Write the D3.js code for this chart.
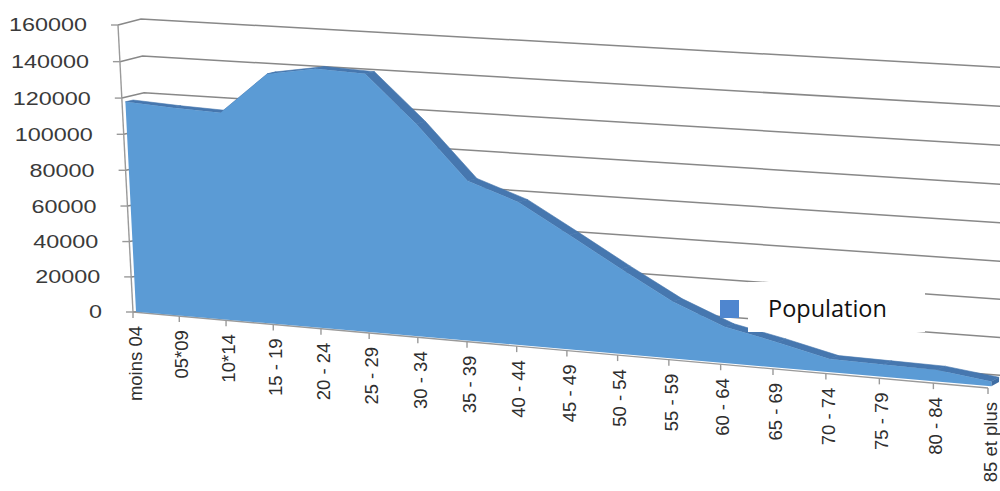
<!DOCTYPE html>
<html>
<head>
<meta charset="utf-8">
<script src="https://cdn.jsdelivr.net/npm/d3@7"></script>
<style>
  body { margin: 0; background: #fff; }
  svg { display: block; }
</style>
</head>
<body>
<div id="chart"></div>
<script>
// data
const categories = ['moins 04', '05*09', '10*14', '15 - 19', '20 - 24', '25 - 29', '30 - 34', '35 - 39', '40 - 44',
  '45 - 49', '50 - 54', '55 - 59', '60 - 64', '65 - 69', '70 - 74', '75 - 79', '80 - 84', '85 et plus'];
const population = [117500, 116000, 115000, 137700, 142100, 141000, 116000, 87300, 77800,
  62100, 46100, 30800, 19500, 13600, 7000, 6500, 6000, 2500];
const valueTicks = [0, 20000, 40000, 60000, 80000, 100000, 120000, 140000, 160000];
const seriesName = 'Population';

const W = 1000, H = 491;
const svg = d3.select('#chart').append('svg').attr('width', W).attr('height', H);

// perspective box: screen corners of the front wall (z=0) and back wall (z=1)
// order: [cat0,val0], [catN,val0], [catN,valMax], [cat0,valMax]
const frontQuad = [[133, 312], [988, 388], [995, 76], [118, 25]];
const backQuad  = [[153, 310], [1010, 376], [1015, 68], [141, 19]];

function quadMap(q) {
  const [[x0, y0], [x1, y1], [x2, y2], [x3, y3]] = q;
  const dx1 = x1 - x2, dx2 = x3 - x2, dx3 = x0 - x1 + x2 - x3;
  const dy1 = y1 - y2, dy2 = y3 - y2, dy3 = y0 - y1 + y2 - y3;
  const den = dx1 * dy2 - dx2 * dy1;
  const g = (dx3 * dy2 - dx2 * dy3) / den, h = (dx1 * dy3 - dx3 * dy1) / den;
  const a = x1 - x0 + g * x1, b = x3 - x0 + h * x3, c = x0;
  const d = y1 - y0 + g * y1, e = y3 - y0 + h * y3, f = y0;
  return (u, v) => { const w = g * u + h * v + 1; return [(a * u + b * v + c) / w, (d * u + e * v + f) / w]; };
}
const front = quadMap(frontQuad), back = quadMap(backQuad);

const x = d3.scaleLinear().domain([0, categories.length - 1]).range([0, 1]);
const y = d3.scaleLinear().domain([0, d3.max(valueTicks)]).range([0, 1]);

function P(i, v, z) {
  const a = front(x(i), y(v)), b = back(x(i), y(v));
  return [a[0] + (b[0] - a[0]) * z, a[1] + (b[1] - a[1]) * z];
}

const line = d3.line();
const last = categories.length - 1;
const zf = 0.15, zb = 0.5;   // depth of the area slab

// floor
svg.append('path')
  .attr('d', line([P(0, 0, 0), P(last, 0, 0), P(last, 0, 1), P(0, 0, 1)]) + 'Z')
  .attr('fill', '#fff');

// gridlines on side + back walls
const gGrid = svg.append('g').attr('fill', 'none').attr('stroke', '#888').attr('stroke-width', 1.5);
valueTicks.forEach(v => {
  gGrid.append('path').attr('d', line([P(0, v, 0), P(0, v, 1), P(last, v, 1)]));
});

// floor front edge + category ticks
const gAxis = svg.append('g').attr('stroke', '#9a9a9a').attr('stroke-width', 1.4).attr('fill', 'none');
gAxis.append('path').attr('d', line([P(0, 0, 0), P(last, 0, 0)]));
categories.forEach((c, i) => {
  const p = P(i, 0, 0);
  gAxis.append('path').attr('d', line([p, [p[0], p[1] + 6]]));
});
// vertical axis + ticks
gAxis.append('path').attr('d', line([P(0, 0, 0), P(0, d3.max(valueTicks), 0)]));
valueTicks.forEach(v => {
  const p = P(0, v, 0);
  gAxis.append('path').attr('d', line([p, [p[0] - 7, p[1]]]));
});

// area slab: top surface, end cap, front face
const gArea = svg.append('g');
population.forEach((v, i) => {
  if (i === last) return;
  const w = population[i + 1];
  gArea.append('path')
    .attr('d', line([P(i, v, zf), P(i + 1, w, zf), P(i + 1, w, zb), P(i, v, zb)]) + 'Z')
    .attr('fill', '#4677af').attr('stroke', '#4677af').attr('stroke-width', 0.6);
});
gArea.append('path')
  .attr('d', line([P(last, 0, zf), P(last, population[last], zf), P(last, population[last], zb), P(last, 0, zb)]) + 'Z')
  .attr('fill', '#3f6da3');
const frontPts = [P(0, 0, zf), ...population.map((v, i) => P(i, v, zf)), P(last, 0, zf)];
gArea.append('path').attr('d', line(frontPts) + 'Z').attr('fill', '#5b9bd5');

// value labels
valueTicks.forEach(v => {
  const p = P(0, v, 0);
  svg.append('text')
    .attr('transform', `translate(${p[0] - 31},${p[1]}) scale(1.3,1)`)
    .attr('text-anchor', 'end').attr('dy', '0.36em')
    .style('font-family', '"Liberation Sans", Arial, sans-serif').style('font-size', '18px')
    .attr('fill', '#3a3a3a')
    .text(v);
});

// category labels (rotated)
categories.forEach((c, i) => {
  const p = P(i, 0, 0);
  svg.append('text')
    .attr('transform', `translate(${p[0] + 2},${p[1] + 14}) rotate(-90)`)
    .attr('text-anchor', 'end').attr('dy', '0.36em')
    .style('font-family', '"Liberation Sans", Arial, sans-serif').style('font-size', '18.5px')
    .attr('fill', '#2e2e2e')
    .text(c);
});

// legend
const lg = svg.append('g');
lg.append('rect').attr('x', 748).attr('y', 282).attr('width', 177).attr('height', 50).attr('fill', '#fff');
lg.append('rect').attr('x', 720).attr('y', 300).attr('width', 19).attr('height', 18).attr('fill', '#4f86cf');
lg.append('text').attr('x', 768).attr('y', 317)
  .style('font-family', '"Open Sans", sans-serif').style('font-size', '23.5px').attr('fill', '#111')
  .text(seriesName);
</script>
</body>
</html>
